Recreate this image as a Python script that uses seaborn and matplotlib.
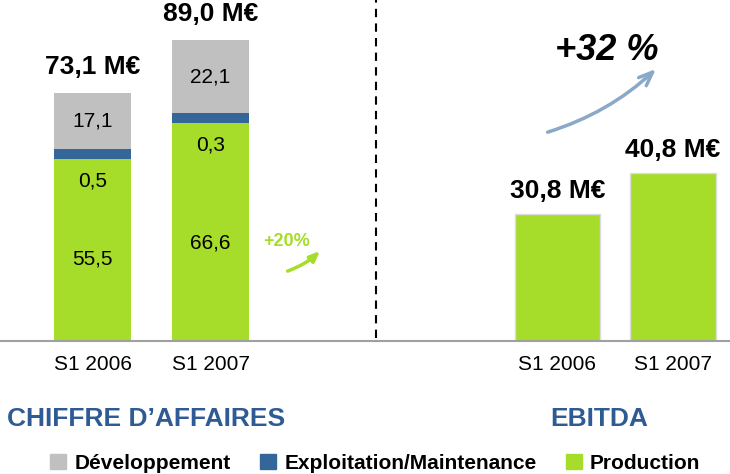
import numpy as np
import pandas as pd
import matplotlib
matplotlib.use('Agg')
import matplotlib.pyplot as plt
import seaborn as sns
from matplotlib.lines import Line2D
from matplotlib.patches import Patch

periods = ['S1 2006', 'S1 2007']
production = [55.5, 66.6]
exploitation = [0.5, 0.3]
developpement = [17.1, 22.1]
ca_total = [73.1, 89.0]
ebitda = [30.8, 40.8]

GRAY = '#c0c0c0'
BLUE = '#346699'
GREEN = '#a6dc2a'
TITLE = '#2f5b94'

sns.set_style('white')
plt.rcParams['font.family'] = ['Liberation Sans', 'DejaVu Sans']
plt.rcParams['text.color'] = 'black'
plt.rcParams['xtick.color'] = 'black'


def fr(v):
    return f'{v:.1f}'.replace('.', ',')


df = pd.DataFrame({'periode': periods, 'prod': production,
                   'dev': developpement})
# the blue slice is far too thin to see at scale, so give it a minimum height
df['expl_vis'] = np.maximum(exploitation, 3)
df['top_expl'] = df['prod'] + df['expl_vis']
df['top_dev'] = df['top_expl'] + df['dev']

fig = plt.figure(figsize=(7.3, 4.74), dpi=100)
ax1 = fig.add_axes([0, 133 / 474, 376 / 730, 341 / 474])
ax2 = fig.add_axes([376 / 730, 133 / 474, 354 / 730, 341 / 474])

# chiffre d'affaires, stacked by layering cumulative bars
for col, c in [('top_dev', GRAY), ('top_expl', BLUE), ('prod', GREEN)]:
    sns.barplot(data=df, x='periode', y=col, color=c, width=0.65,
                saturation=1, errorbar=None, linewidth=0, ax=ax1)

for i in range(len(periods)):
    ax1.annotate(fr(ca_total[i]) + ' M€', (i, df['top_dev'][i]),
                 xytext=(0, 14), textcoords='offset points', ha='center',
                 va='baseline', fontsize=19, fontweight='bold')
    ax1.text(i, df['top_expl'][i] + df['dev'][i] / 2, fr(developpement[i]),
             ha='center', va='center', fontsize=15)
    ax1.annotate(fr(exploitation[i]), (i, df['prod'][i]), xytext=(0, -16),
                 textcoords='offset points', ha='center', va='center',
                 fontsize=15)
    ax1.text(i, production[i] * 0.45, fr(production[i]), ha='center',
             va='center', fontsize=15)

ax1.set_xlim(-92.5 / 118, 283.5 / 118)
ax1.set_ylim(0, 104)

# EBITDA
sns.barplot(x=periods, y=ebitda, color=GREEN, width=0.736, saturation=1,
            edgecolor='#dcdcdc', linewidth=1, ax=ax2)
for i, v in enumerate(ebitda):
    ax2.annotate(fr(v) + ' M€', (i, v), xytext=(0, 11.5),
                 textcoords='offset points', ha='center', va='baseline',
                 fontsize=19, fontweight='bold')
ax2.set_xlim(-181.5 / 115.5, 172.5 / 115.5)
ax2.set_ylim(0, 82.6)

for ax in (ax1, ax2):
    sns.despine(ax=ax, left=True)
    ax.spines['bottom'].set_color('#a0a0a0')
    ax.spines['bottom'].set_linewidth(1.5)
    ax.set_yticks([])
    ax.set_xlabel('')
    ax.set_ylabel('')
    ax.tick_params(axis='x', length=0, labelsize=15, pad=10,
                   labelcolor='black')
    ax.patch.set_alpha(0)

# separator
fig.add_artist(Line2D([376 / 730, 376 / 730], [136 / 474, 1], color='black',
                      lw=1.5, linestyle=(0, (4, 3))))

# growth notes
fig.text(287 / 730, 228 / 474, '+20%', color=GREEN, fontsize=13,
         fontweight='bold', ha='center', va='baseline')
ax1.annotate('', xy=(322, 225), xytext=(285, 202), xycoords='figure pixels',
             textcoords='figure pixels',
             arrowprops=dict(arrowstyle='-|>,head_length=0.6,head_width=0.25',
                             color=GREEN, lw=2.5,
                             connectionstyle='arc3,rad=0.12'))
fig.text(607 / 730, 414 / 474, '+32 %', fontsize=26, fontweight='bold',
         fontstyle='italic', ha='center', va='baseline')
ax2.annotate('', xy=(658, 407), xytext=(545, 341), xycoords='figure pixels',
             textcoords='figure pixels',
             arrowprops=dict(arrowstyle='->,head_length=1.0,head_width=0.4',
                             color='#8aa8c8', lw=2.5,
                             connectionstyle='arc3,rad=0.12'))

# titles
fig.text(7 / 730, 48 / 474, 'CHIFFRE D’AFFAIRES', fontsize=19,
         fontweight='bold', color=TITLE, va='baseline')
fig.text(599 / 730, 48 / 474, 'EBITDA', fontsize=19, fontweight='bold',
         color=TITLE, va='baseline', ha='center')

handles = [Patch(color=GRAY, label='Développement'),
           Patch(color=BLUE, label='Exploitation/Maintenance'),
           Patch(color=GREEN, label='Production')]
fig.legend(handles=handles, loc='center', bbox_to_anchor=(0.514, 0.023),
           ncol=3, frameon=False, prop={'size': 15, 'weight': 'bold'},
           handlelength=0.77, handleheight=0.77, handletextpad=0.4,
           columnspacing=1.4, borderpad=0, borderaxespad=0)

fig.savefig('out.png', dpi=100)
